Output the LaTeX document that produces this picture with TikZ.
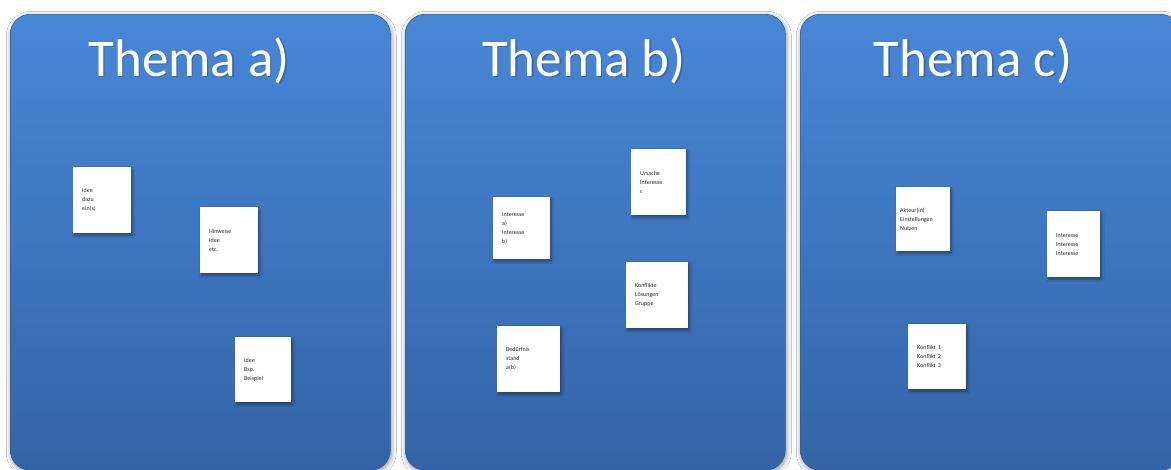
\documentclass[tikz,border=0pt]{standalone}
\usepackage{fontspec}
\setmainfont{Carlito}
\usetikzlibrary{shadows.blur}

\definecolor{panelTop}{RGB}{72,135,215}
\definecolor{panelBot}{RGB}{52,100,166}
\definecolor{panelEdge}{RGB}{50,95,160}
\definecolor{titleShade}{RGB}{30,60,110}
\definecolor{noteInk}{RGB}{40,40,40}

\tikzset{
  panel/.style={anchor=north west, rounded corners=20pt,
    top color=panelTop, bottom color=panelBot, draw=panelEdge, line width=0.6pt,
    minimum width=380pt, minimum height=456pt, inner sep=0pt,
    blur shadow={shadow blur steps=10, shadow xshift=1pt, shadow yshift=-2pt,
      shadow blur radius=5pt, shadow opacity=45}},
  title/.style={anchor=base, text=white, font=\fontsize{53}{60}\selectfont},
  titleshadow/.style={anchor=base, text=titleShade, opacity=0.35,
    font=\fontsize{53}{60}\selectfont},
  note/.style={anchor=north west, fill=white, inner xsep=9pt, inner ysep=0pt,
    align=left, text=noteInk, font=\fontsize{6}{9}\selectfont,
    blur shadow={shadow blur steps=6, shadow xshift=1.5pt, shadow yshift=-2pt,
      shadow blur radius=2.5pt, shadow opacity=40}},
}

\begin{document}
\begin{tikzpicture}[x=1pt,y=-1pt]
\useasboundingbox (0,0) rectangle (1171,469);
\fill[white] (0,0) rectangle (1171,469);

% three topic boards
\node[panel] (pa) at (10,14) {};
\node[panel] (pb) at (405,14) {};
\node[panel] (pc) at (800,14) {};

% board titles
\node[titleshadow] (tas) at (190.5,77.5) {Thema a)};
\node[title] (ta) at (189,76) {Thema a)};
\node[titleshadow] (tbs) at (585.5,77.5) {Thema b)};
\node[title] (tb) at (584,76) {Thema b)};
\node[titleshadow] (tcs) at (974.5,77.5) {Thema c)};
\node[title] (tc) at (973,76) {Thema c)};

% notes on board a
\node[note, minimum width=58pt, minimum height=66pt, text width=40pt] (a1) at (73,167)
  {Idee\\dazu\\ein(s)};
\node[note, minimum width=58pt, minimum height=66pt, text width=40pt] (a2) at (200,207)
  {Hinweise\\Idee\\etc.};
\node[note, minimum width=56pt, minimum height=65pt, text width=38pt] (a3) at (235,337)
  {Idee\\Bsp.\\Beispiel};

% notes on board b
\node[note, minimum width=57pt, minimum height=62pt, text width=39pt] (b1) at (493,197)
  {Interesse\\a)\\Interesse\\b)};
\node[note, minimum width=55pt, minimum height=66pt, text width=37pt] (b2) at (631,149)
  {Ursache\\Interesse\\c};
\node[note, minimum width=62pt, minimum height=66pt, text width=44pt] (b3) at (626,262)
  {Konflikte\\Lösungen\\Gruppe};
\node[note, minimum width=63pt, minimum height=66pt, text width=45pt] (b4) at (497,326)
  {Bedürfnis\\stand\\a(b)};

% notes on board c
\node[note, minimum width=54pt, minimum height=64pt, inner xsep=4pt,
  text width=46pt] (c1) at (896,187)
  {Akteur(in)\\Einstellungen\\Nutzen};
\node[note, minimum width=53pt, minimum height=66pt, text width=35pt] (c2) at (1047,211)
  {Interesse\\Interesse\\Interesse};
\node[note, minimum width=58pt, minimum height=65pt, text width=40pt] (c3) at (908,324)
  {Konflikt 1\\Konflikt 2\\Konflikt 3};
\end{tikzpicture}
\end{document}
